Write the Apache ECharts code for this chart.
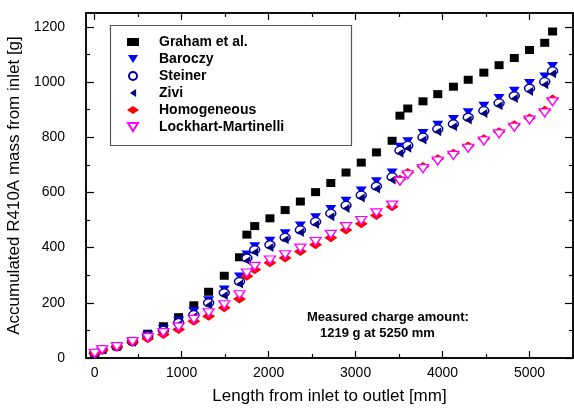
<!DOCTYPE html>
<html>
<head>
<meta charset="utf-8">
<title>Accumulated R410A mass</title>
<script src="https://cdn.jsdelivr.net/npm/echarts@6.0.0/dist/echarts.min.js"></script>
<style>
  html, body { margin: 0; padding: 0; background: #fff; }
  #chart { width: 574px; height: 408px; }
</style>
</head>
<body>
<div id="chart"></div>
<script>
// positions along the tube [mm]
const lengthMm = [0, 85, 255, 435, 610, 790, 965, 1140, 1310, 1490, 1665, 1750, 1840, 2015, 2190, 2365, 2540, 2715, 2890, 3065, 3240, 3420, 3510, 3600, 3775, 3945, 4125, 4295, 4475, 4650, 4825, 5000, 5175, 5265];

// accumulated mass [g] per void fraction model
const graham = [17, 30, 43, 62, 88, 115, 148, 191, 240, 298, 365, 447, 478, 506, 536, 567, 601, 634, 672, 708, 745, 787, 878, 904, 930, 956, 983, 1008, 1034, 1061, 1087, 1116, 1142, 1183];
const baroczy = [18, 31, 43, 61, 83, 105, 135, 169, 209, 248, 295, 375, 405, 425, 452, 480, 510, 540, 570, 607, 640, 672, 765, 785, 815, 845, 866, 890, 914, 942, 968, 996, 1020, 1058];
const steiner = [17, 30, 41, 59, 80, 100, 128, 157, 200, 236, 277, 362, 392, 410, 437, 464, 494, 524, 553, 590, 622, 656, 752, 770, 800, 830, 848, 872, 896, 924, 950, 977, 1001, 1040];
const zivi = [16, 29, 40, 57, 77, 96, 122, 150, 192, 226, 268, 352, 383, 400, 428, 455, 484, 512, 542, 580, 612, 645, 742, 760, 790, 820, 838, 862, 886, 914, 940, 966, 990, 1030];
const homogeneous = [16, 28, 40, 57, 70, 85, 103, 133, 151, 182, 214, 296, 320, 345, 362, 386, 410, 436, 464, 486, 516, 548, 648, 672, 694, 722, 742, 768, 794, 820, 845, 870, 898, 938];
const lockhart = [17, 30, 41, 59, 74, 92, 112, 140, 164, 193, 229, 308, 332, 355, 374, 398, 422, 448, 476, 498, 526, 554, 640, 664, 686, 714, 734, 760, 786, 812, 836, 862, 888, 928];

// tick labels
const xMajorTicks = [0, 1000, 2000, 3000, 4000, 5000];
const xMinorTicks = [500, 1500, 2500, 3500, 4500];
const yMajorTicks = [0, 200, 400, 600, 800, 1000, 1200];
const yMinorTicks = [100, 300, 500, 700, 900, 1100];

const font = "'Liberation Sans', Arial, sans-serif";

// marker shapes (triangles drawn as paths so legend and plot agree)
const downTriangle = "path://M0,0L10,0L5,8Z";
const leftTriangle = "path://M0,4.5L7,0L7,9Z";

const pairs = (ys) => lengthMm.map((x, i) => [x, ys[i]]);

// one axis per tick row: major/minor, bottom/top, left/right
const xAxisDef = (pos, ticks, len, labels) => ({
  type: "value",
  position: pos,
  min: -100,
  max: 5500,
  axisLine: { show: true, onZero: false, lineStyle: { color: "#000", width: 1.5 } },
  axisTick: { show: true, inside: true, length: len, customValues: ticks, lineStyle: { color: "#000", width: 1.2 } },
  axisLabel: labels
    ? { show: true, customValues: ticks, margin: 8, color: "#000", fontSize: 14, fontFamily: font, formatter: (v) => String(v) }
    : { show: false },
  splitLine: { show: false },
});

const yAxisDef = (pos, ticks, len, labels) => ({
  type: "value",
  position: pos,
  min: 0,
  max: 1250,
  axisLine: { show: true, onZero: false, lineStyle: { color: "#000", width: 1.5 } },
  axisTick: { show: true, inside: true, length: len, customValues: ticks, lineStyle: { color: "#000", width: 1.2 } },
  axisLabel: labels
    ? { show: true, customValues: ticks, margin: 21, color: "#000", fontSize: 14, fontFamily: font, formatter: (v) => String(v) }
    : { show: false },
  splitLine: { show: false },
});

const xMain = xAxisDef("bottom", xMajorTicks, 7, true);
xMain.name = "Length from inlet to outlet [mm]";
xMain.nameLocation = "middle";
xMain.nameGap = 30;
xMain.nameTextStyle = { color: "#000", fontSize: 17, fontFamily: font };

const yMain = yAxisDef("left", yMajorTicks, 8, true);
yMain.name = "Accumulated R410A mass from inlet [g]";
yMain.nameLocation = "middle";
yMain.nameGap = 58;
yMain.nameTextStyle = { color: "#000", fontSize: 17, fontFamily: font };

const chart = echarts.init(document.getElementById("chart"), null, { renderer: "canvas" });

const option = {
  backgroundColor: "#fff",
  animation: false,
  grid: { left: 86, right: 1, top: 13, bottom: 50, containLabel: false, outerBoundsMode: "none" },
  xAxis: [
    xMain,
    xAxisDef("bottom", xMinorTicks, 4, false),
    xAxisDef("top", xMajorTicks, 7, false),
    xAxisDef("top", xMinorTicks, 4, false),
  ],
  yAxis: [
    yMain,
    yAxisDef("left", yMinorTicks, 4, false),
    yAxisDef("right", yMajorTicks, 8, false),
    yAxisDef("right", yMinorTicks, 4, false),
  ],
  legend: {
    orient: "vertical",
    left: 127,
    top: 35,
    padding: 0,
    itemWidth: 12,
    itemHeight: 8,
    itemGap: 3,
    selectedMode: false,
    textStyle: { color: "#000", fontSize: 14, fontWeight: "bold", fontFamily: font, lineHeight: 14, padding: [0, 0, 0, 15] },
    data: ["Graham et al.", "Baroczy", "Steiner", "Zivi", "Homogeneous", "Lockhart-Martinelli"],
  },
  graphic: [
    {
      // legend frame
      type: "rect",
      left: 108,
      top: 23,
      shape: { width: 241, height: 120 },
      style: { fill: "none", stroke: "#555", lineWidth: 1.2 },
      z: 1,
    },
    {
      type: "text",
      left: 307,
      top: 311,
      style: { text: "Measured charge amount:", fill: "#000", font: "bold 13px " + font },
    },
    {
      type: "text",
      left: 320,
      top: 327,
      style: { text: "1219 g at 5250 mm", fill: "#000", font: "bold 13px " + font },
    },
  ],
  series: [
    {
      name: "Graham et al.",
      type: "scatter",
      data: pairs(graham),
      symbol: "rect",
      symbolSize: [9, 8],
      itemStyle: { color: "#000", opacity: 1 },
    },
    {
      name: "Baroczy",
      type: "scatter",
      data: pairs(baroczy),
      symbol: downTriangle,
      symbolSize: [11, 8],
      itemStyle: { color: "#0000ff", opacity: 1 },
    },
    {
      name: "Steiner",
      type: "scatter",
      data: pairs(steiner),
      symbol: "circle",
      symbolSize: [10, 8],
      itemStyle: { color: "#fff", borderColor: "#0000a0", borderWidth: 1.3, opacity: 1 },
    },
    {
      name: "Zivi",
      type: "scatter",
      data: pairs(zivi),
      symbol: leftTriangle,
      symbolSize: [7, 9],
      itemStyle: { color: "#000080", opacity: 1 },
    },
    {
      name: "Homogeneous",
      type: "scatter",
      data: pairs(homogeneous),
      symbol: "diamond",
      symbolSize: [13, 9],
      itemStyle: { color: "#ff0000", opacity: 1 },
    },
    {
      name: "Lockhart-Martinelli",
      type: "scatter",
      data: pairs(lockhart),
      symbol: downTriangle,
      symbolSize: [11, 8],
      itemStyle: { color: "#fff", borderColor: "#ff00ff", borderWidth: 1.3, opacity: 1 },
    },
  ],
};

chart.setOption(option);
</script>
</body>
</html>
